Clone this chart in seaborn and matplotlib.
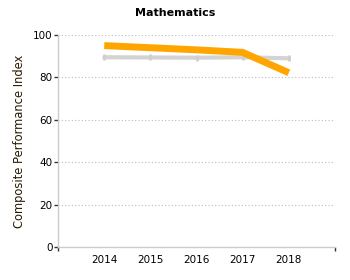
import matplotlib
matplotlib.use("Agg")
import matplotlib.pyplot as plt
import seaborn as sns
import pandas as pd

years = [2014, 2015, 2016, 2017, 2018]
school = [95.0, 94.0, 93.0, 91.8, 82.2]
state = [89.5, 89.4, 89.3, 89.5, 89.0]

sns.set_style("white")
plt.rcParams['font.family'] = ['DejaVu Sans']

df = pd.DataFrame({"year": years + years,
                   "value": state + school,
                   "series": ["State"] * 5 + ["School"] * 5})

fig = plt.figure(figsize=(3.5, 2.8), dpi=100)
ax = fig.add_axes([0.166, 0.118, 0.791, 0.757])

sns.lineplot(data=df[df.series == "State"], x="year", y="value", color="#d3d3d3",
             linewidth=3, marker="|", markersize=5, markeredgewidth=2,
             markeredgecolor="#cfcfcf", ax=ax)
sns.lineplot(data=df[df.series == "School"], x="year", y="value", color="#ffa500",
             linewidth=5, solid_capstyle="butt", ax=ax)

ax.set_xlim(2013, 2019)
ax.set_ylim(0, 100)
ax.set_xticks(years)
ax.set_xticklabels([str(y) for y in years])
ax.set_xticks([2013, 2019], minor=True)
ax.set_yticks([0, 20, 40, 60, 80, 100])
ax.tick_params(axis="x", which="major", bottom=True, length=0, labelsize=7.5, pad=6, labelcolor="black")
ax.tick_params(axis="x", which="minor", bottom=True, length=3, width=1, color="#333333")
ax.tick_params(axis="y", left=True, length=3, width=1, color="#333333", labelsize=7.5, pad=1, labelcolor="black")
ax.yaxis.grid(True, linestyle=(0, (1, 2)), color="#bbbbbb", linewidth=0.8)
ax.xaxis.grid(False)
for s in ["top", "right"]:
    ax.spines[s].set_visible(False)
for s in ["left", "bottom"]:
    ax.spines[s].set_color("#cccccc")
    ax.spines[s].set_linewidth(1)

ax.set_xlabel("")
ax.set_ylabel("Composite Performance Index", fontsize=8.3, color="#2a1a00", labelpad=5)
fig.text(0.5, 0.955, "Mathematics", ha="center", va="center", fontsize=8,
         fontweight="bold", color="black")

fig.savefig("out.png", dpi=100)
